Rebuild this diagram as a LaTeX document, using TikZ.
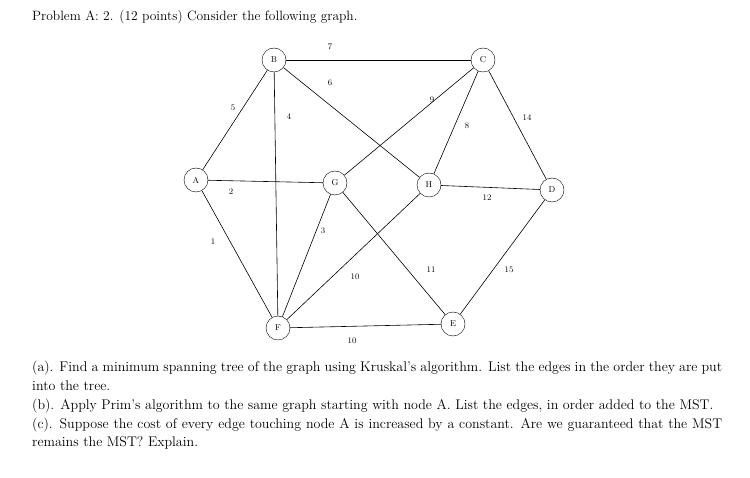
\documentclass[tikz,border=0pt]{standalone}
\begin{document}
\begin{tikzpicture}[x=1pt,y=-1pt,
  vtx/.style={circle,draw,fill=white,minimum size=24pt,inner sep=0pt,font=\fontsize{8.5}{9}\selectfont},
  edge/.style={draw,line width=0.6pt},
  wl/.style={font=\fontsize{8.5}{9}\selectfont},
  txt/.style={anchor=north west,inner sep=0pt,font=\fontsize{14}{18.8}\selectfont}]
\useasboundingbox (0,0) rectangle (750,478);
\node[txt,font=\fontsize{13.5}{18}\selectfont] (title) at (32,10) {Problem A: 2. (12 points) Consider the following graph.};
\node[vtx] (A) at (196,180) {A};
\node[vtx] (B) at (274,60) {B};
\node[vtx] (C) at (483,60) {C};
\node[vtx] (D) at (552,190) {D};
\node[vtx] (E) at (453,324) {E};
\node[vtx] (F) at (278,328) {F};
\node[vtx] (G) at (335,183) {G};
\node[vtx] (H) at (429,185) {H};
\draw[edge] (A)--(B); \draw[edge] (A)--(G); \draw[edge] (A)--(F);
\draw[edge] (B)--(C); \draw[edge] (B)--(H); \draw[edge] (B)--(F);
\draw[edge] (C)--(G); \draw[edge] (C)--(H); \draw[edge] (C)--(D);
\draw[edge] (H)--(D); \draw[edge] (G)--(F); \draw[edge] (G)--(E);
\draw[edge] (H)--(F); \draw[edge] (F)--(E); \draw[edge] (D)--(E);
\node[wl] (w1) at (233,108) {5};
\node[wl] (w2) at (231,192) {2};
\node[wl] (w3) at (213,242) {1};
\node[wl] (w4) at (330,47) {7};
\node[wl] (w5) at (330,83) {6};
\node[wl] (w6) at (289,117) {4};
\node[wl] (w7) at (432,100) {9};
\node[wl] (w8) at (467,126) {8};
\node[wl] (w9) at (527,118) {14};
\node[wl] (w10) at (487,198) {12};
\node[wl] (w11) at (323,231) {3};
\node[wl] (w12) at (431,270) {11};
\node[wl] (w13) at (355,277) {10};
\node[wl] (w14) at (352,341) {10};
\node[wl] (w15) at (509,270) {15};
\node[txt,text width=690pt,align=justify] (body) at (32,361) {(a). Find a minimum spanning tree of the graph using Kruskal's algorithm. List the edges in the order they are put into the tree.\\
(b). Apply Prim's algorithm to the same graph starting with node A. List the edges, in order added to the MST.\\
(c). Suppose the cost of every edge touching node A is increased by a constant. Are we guaranteed that the MST remains the MST? Explain.};
\end{tikzpicture}
\end{document}
